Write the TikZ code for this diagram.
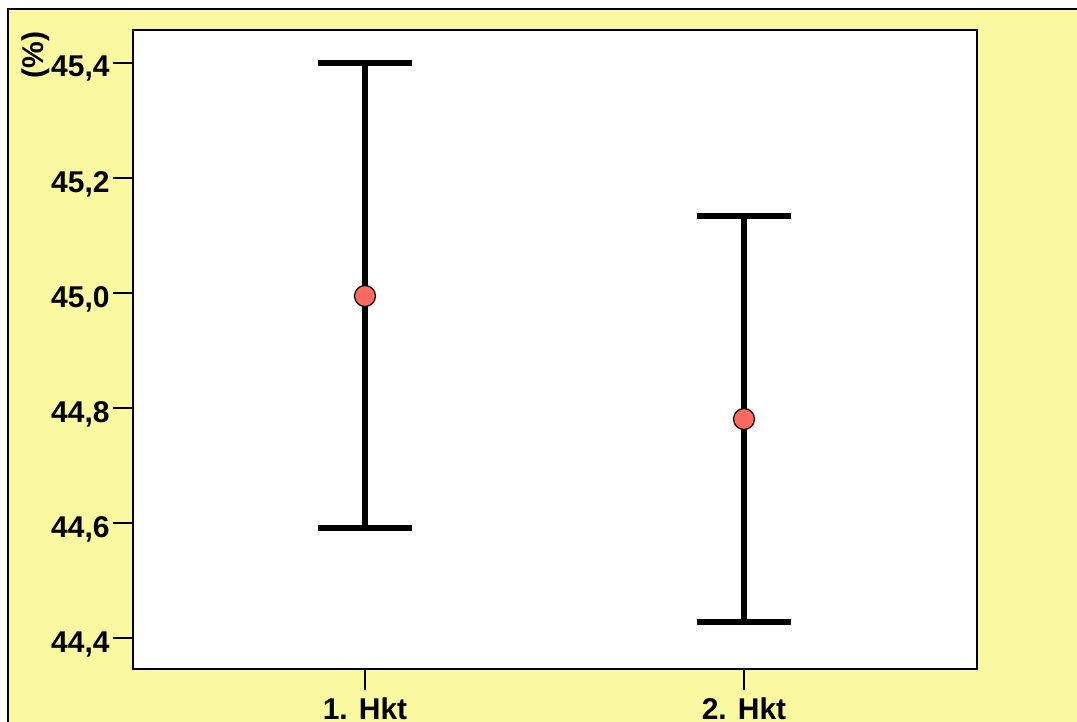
\documentclass[tikz,border=0pt]{standalone}
\usepackage{fontspec}
\setmainfont{Liberation Sans}
\definecolor{panelyellow}{RGB}{250,248,160}
\definecolor{meanred}{RGB}{255,105,95}
\tikzset{
  ticklabel/.style={font=\fontsize{15}{15}\selectfont\bfseries, inner sep=0pt},
  errbar/.style={line width=2.6pt},
  meanmark/.style={circle, draw, fill=meanred, minimum size=10.5pt, inner sep=0pt, line width=0.6pt},
}
\begin{document}
\begin{tikzpicture}[x=0.5pt, y=-0.5pt]
  \useasboundingbox (0,0) rectangle (1077,722);
  \clip (0,0) rectangle (1077,722);
  % background
  \fill[white] (0,0) rectangle (1077,722);
  \draw[line width=0.9pt, fill=panelyellow] (8,9) rectangle (1100,750);
  % plot area
  \draw[line width=0.8pt, fill=white] (133,30) coordinate (plotnw) rectangle (977,669) coordinate (plotse);
  % y axis
  \foreach \i/\lab in {0/{45,4}, 1/{45,2}, 2/{45,0}, 3/{44,8}, 4/{44,6}, 5/{44,4}} {
    \coordinate (ytick\i) at (133,63+\i*115);
    \draw[line width=0.8pt] (ytick\i) -- ++(-20,0) coordinate (ytickend\i);
    \node[ticklabel, anchor=base east] (ylab\i) at ([xshift=-1.5pt, yshift=-7pt]ytickend\i) {\lab};
  }
  \node[ticklabel, rotate=90] (yunit) at (36,55) {(\%)};
  % x axis
  \foreach \i/\x/\lab in {1/365/{1. Hkt}, 2/744/{2. Hkt}} {
    \coordinate (xtick\i) at (\x,669);
    \draw[line width=0.8pt] (xtick\i) -- ++(0,21) coordinate (xtickend\i);
    \node[ticklabel, anchor=base] (xlab\i) at (\x,719) {\lab};
  }
  % group 1
  \coordinate (hi1) at (365,63);
  \coordinate (lo1) at (365,528);
  \draw[errbar] (hi1) -- (lo1);
  \draw[errbar] ([xshift=-23.5pt]hi1) -- ([xshift=23.5pt]hi1);
  \draw[errbar] ([xshift=-23.5pt]lo1) -- ([xshift=23.5pt]lo1);
  \node[meanmark] (mean1) at (365,296) {};
  % group 2
  \coordinate (hi2) at (744,216);
  \coordinate (lo2) at (744,622);
  \draw[errbar] (hi2) -- (lo2);
  \draw[errbar] ([xshift=-23.5pt]hi2) -- ([xshift=23.5pt]hi2);
  \draw[errbar] ([xshift=-23.5pt]lo2) -- ([xshift=23.5pt]lo2);
  \node[meanmark] (mean2) at (744,419) {};
\end{tikzpicture}
\end{document}
